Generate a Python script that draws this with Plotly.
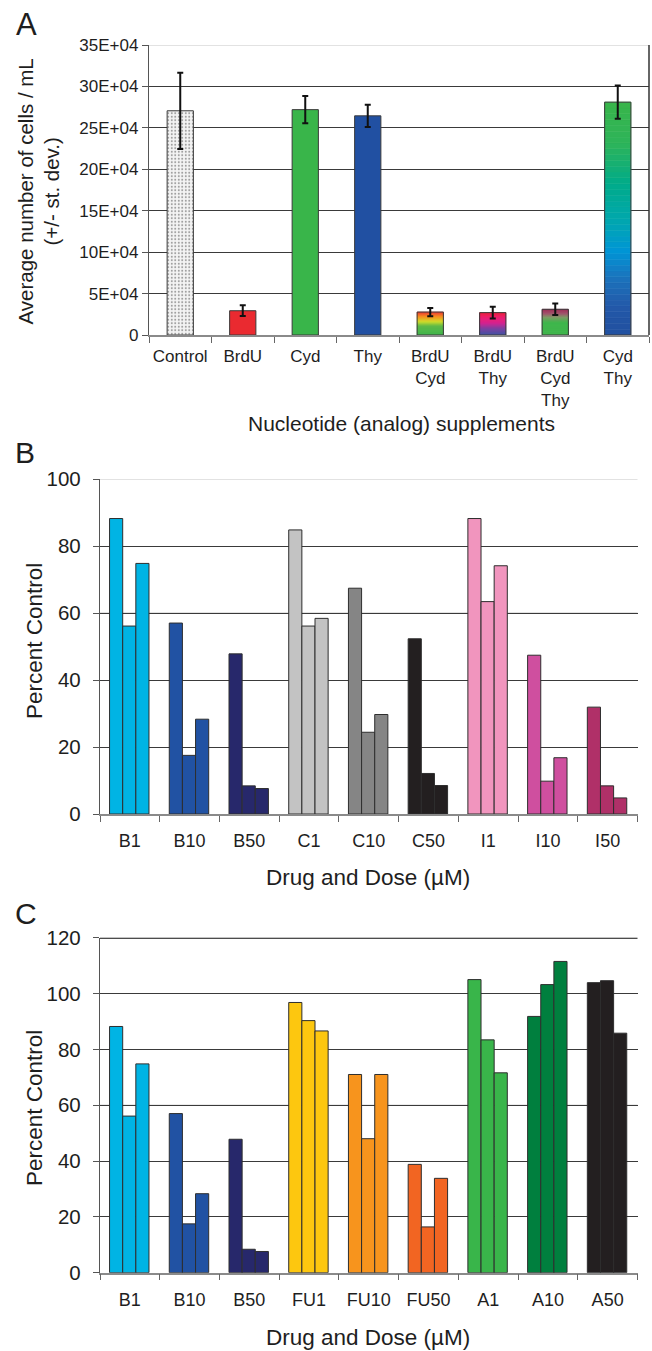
import plotly.graph_objects as go

W, H = 652, 1351
FONT = "Liberation Sans, Arial, Helvetica, sans-serif"
TXT = "#1e1e1e"

# ---------------- Panel A data ----------------
a_categories = ["Control", "BrdU", "Cyd", "Thy", "BrdU<br>Cyd", "BrdU<br>Thy",
                "BrdU<br>Cyd<br>Thy", "Cyd<br>Thy"]
a_means = [270600, 29300, 272000, 264500, 27700, 27000, 31000, 281000]
a_sd = [46000, 6500, 16500, 13500, 5000, 7000, 7000, 20000]
a_tickvals = [0, 50000, 100000, 150000, 200000, 250000, 300000, 350000]
a_ticktext = ["0", "5E+04", "10E+04", "15E+04", "20E+04", "25E+04", "30E+04", "35E+04"]

# ---------------- Panel B data ----------------
b_categories = ["B1", "B10", "B50", "C1", "C10", "C50", "I1", "I10", "I50"]
b_rep1 = [88.2, 57.0, 47.8, 84.8, 67.4, 52.3, 88.2, 47.4, 31.9]
b_rep2 = [56.1, 17.5, 8.4, 56.1, 24.4, 12.1, 63.4, 9.8, 8.4]
b_rep3 = [74.8, 28.3, 7.6, 58.4, 29.7, 8.5, 74.1, 16.8, 4.8]
b_tickvals = [0, 20, 40, 60, 80, 100]

# ---------------- Panel C data ----------------
c_categories = ["B1", "B10", "B50", "FU1", "FU10", "FU50", "A1", "A10", "A50"]
c_rep1 = [88.2, 57.0, 47.8, 96.8, 71.0, 38.8, 105.0, 91.8, 103.9]
c_rep2 = [56.1, 17.5, 8.4, 90.3, 48.0, 16.4, 83.4, 103.2, 104.6]
c_rep3 = [74.8, 28.3, 7.6, 86.6, 71.0, 33.8, 71.6, 111.5, 85.8]
c_tickvals = [0, 20, 40, 60, 80, 100, 120]

# ---------------- styles ----------------
a_solid = ["#f4f4f4", "#ea2a30", "#39b54a", "#2150a2", None, None, None, None]
a_grad = {
    4: [(0, "#3cb54a"), (0.4, "#5cb947"), (0.6, "#cfdc28"), (0.8, "#f7941d"), (1, "#ee3e32")],
    5: [(0, "#3b52a4"), (0.3, "#7a3fa0"), (0.55, "#d6208f"), (0.8, "#ec1c6e"), (1, "#ed1c3c")],
    6: [(0, "#3cb54a"), (0.5, "#3cb54a"), (0.7, "#7d9a63"), (0.85, "#a0506a"), (1, "#9b2f56")],
    7: [(0, "#2150a0"), (0.12, "#2358a8"), (0.25, "#1a74bd"), (0.36, "#0095d6"),
        (0.5, "#00a8ac"), (0.65, "#00ab8a"), (0.82, "#2db45a"), (1, "#39b54a")],
}
b_colors = ["#00b4e4", "#2152a3", "#27286b", "#c3c3c3", "#858585", "#231f20",
            "#f195be", "#cf4f9f", "#b03068"]
c_colors = ["#00b4e4", "#2152a3", "#27286b", "#fdc70f", "#f7941d", "#f26522",
            "#39b54a", "#007f3e", "#231f20"]


def hex2rgb(h):
    h = h.lstrip("#")
    return tuple(int(h[i:i + 2], 16) for i in (0, 2, 4))


def interp(stops, t):
    for (t0, c0), (t1, c1) in zip(stops[:-1], stops[1:]):
        if t0 <= t <= t1:
            f = 0 if t1 == t0 else (t - t0) / (t1 - t0)
            a, b = hex2rgb(c0), hex2rgb(c1)
            return "rgb(%d,%d,%d)" % tuple(round(a[k] + (b[k] - a[k]) * f) for k in range(3))
    return stops[-1][1]


fig = go.Figure()

# gradient segments (built from the bar values)
N = 40
seg_x, seg_base, seg_h, seg_c = [], [], [], []
for idx, stops in a_grad.items():
    v = a_means[idx]
    for i in range(N):
        seg_x.append(a_categories[idx])
        seg_base.append(v * i / N)
        seg_h.append(v / N)
        seg_c.append(interp(stops, (i + 0.5) / N))
fig.add_trace(go.Bar(x=seg_x, y=seg_h, base=seg_base, width=0.42,
                     marker=dict(color=seg_c, line=dict(color=seg_c, width=0.6)),
                     xaxis="x", yaxis="y", hoverinfo="skip", showlegend=False))

# main bars with outline and error bars
fig.add_trace(go.Bar(
    x=a_categories, y=a_means, width=0.42,
    marker=dict(color=[c if c else "rgba(0,0,0,0)" for c in a_solid],
                line=dict(color="#3a3a3a", width=1),
                pattern=dict(shape=["."] + [""] * 7, fgcolor="#b0b0b0",
                             bgcolor="#f6f6f6", size=3.5, solidity=0.25)),
    error_y=dict(type="data", array=a_sd, visible=True, color="#111111",
                 thickness=2, width=3),
    xaxis="x", yaxis="y", showlegend=False))

# panels B and C
offsets = [-0.34, -0.12, 0.10]
for reps, cats, cols, xa, ya in [((b_rep1, b_rep2, b_rep3), b_categories, b_colors, "x2", "y2"),
                                  ((c_rep1, c_rep2, c_rep3), c_categories, c_colors, "x3", "y3")]:
    for k, vals in enumerate(reps):
        fig.add_trace(go.Bar(x=cats, y=vals, width=0.22, offset=offsets[k],
                             marker=dict(color=cols, line=dict(color="#2e2e2e", width=1)),
                             xaxis=xa, yaxis=ya, showlegend=False))


def ydom(top, bottom):
    return [1 - bottom / H, 1 - top / H]


common_x = dict(type="category", tickson="boundaries", ticks="outside", ticklen=6,
                tickcolor="#666666", tickwidth=1.3, showline=True, linecolor="#8a8a8a",
                linewidth=1.5, showgrid=False, tickangle=0, automargin=False)
common_y = dict(ticks="outside", ticklen=6, tickcolor="#555555", tickwidth=1.3,
                showline=True, linecolor="#555555", linewidth=1.3, gridcolor="#3a3a3a",
                gridwidth=1.3, zeroline=False, tickmode="array", automargin=False)

fig.update_layout(
    width=W, height=H, margin=dict(l=0, r=0, t=0, b=0, autoexpand=False),
    paper_bgcolor="white", plot_bgcolor="white",
    barmode="overlay", showlegend=False,
    font=dict(family=FONT, color=TXT),
    xaxis=dict(common_x, domain=[149 / W, 649 / W], anchor="y", range=[-0.5, 7.5],
               categoryorder="array", categoryarray=a_categories, ticklabelstandoff=5,
               tickfont=dict(family=FONT, color=TXT, size=17)),
    yaxis=dict(common_y, domain=ydom(45, 335), anchor="x", range=[0, 350000],
               tickvals=a_tickvals, ticktext=a_ticktext,
               tickfont=dict(family=FONT, color=TXT, size=17)),
    xaxis2=dict(common_x, domain=[100 / W, 637.5 / W], anchor="y2", range=[-0.5, 8.5],
                categoryorder="array", categoryarray=b_categories, ticklabelstandoff=10,
                tickfont=dict(family=FONT, color=TXT, size=18)),
    yaxis2=dict(common_y, domain=ydom(479, 814), anchor="x2", range=[0, 100],
                tickvals=b_tickvals, ticklabelstandoff=8,
                tickfont=dict(family=FONT, color=TXT, size=20.5)),
    xaxis3=dict(common_x, domain=[100 / W, 637.5 / W], anchor="y3", range=[-0.5, 8.5],
                categoryorder="array", categoryarray=c_categories, ticklabelstandoff=10,
                tickfont=dict(family=FONT, color=TXT, size=18)),
    yaxis3=dict(common_y, domain=ydom(937.7, 1272.7), anchor="x3", range=[0, 120],
                tickvals=c_tickvals, ticklabelstandoff=8,
                tickfont=dict(family=FONT, color=TXT, size=20.5)),
)

light = "#d8d8d8"
fig.add_shape(type="line", xref="x domain", yref="y", x0=0, x1=1, y0=a_tickvals[-1],
              y1=a_tickvals[-1], line=dict(color=light, width=1.5), layer="below")
fig.add_shape(type="line", xref="x domain", yref="y domain", x0=1, x1=1, y0=0, y1=1,
              line=dict(color="#333333", width=1.5))
fig.add_shape(type="line", xref="x2 domain", yref="y2", x0=0, x1=1, y0=b_tickvals[-1],
              y1=b_tickvals[-1], line=dict(color=light, width=1.5), layer="below")
fig.add_shape(type="line", xref="x2 domain", yref="y2", x0=0, x1=1, y0=b_tickvals[3],
              y1=b_tickvals[3], line=dict(color=light, width=1.5), layer="below")
fig.add_shape(type="line", xref="x3 domain", yref="y3", x0=0, x1=1, y0=c_tickvals[3],
              y1=c_tickvals[3], line=dict(color=light, width=1.5), layer="below")
fig.add_shape(type="line", xref="x3 domain", yref="y3", x0=0, x1=1, y0=c_tickvals[-1],
              y1=c_tickvals[-1], line=dict(color="#111111", width=2.2), layer="below")


def ann(text, x, y, size, angle=0):
    fig.add_annotation(text=text, xref="paper", yref="paper", x=x / W, y=1 - y / H,
                       xanchor="center", yanchor="middle", showarrow=False,
                       textangle=angle, font=dict(family=FONT, size=size, color=TXT))


ann("A", 26.5, 24.5, 31)
ann("B", 24.5, 452.5, 30)
ann("C", 25.5, 913, 30)
ann("Average number of cells / mL<br>(+/- st. dev.)", 38.5, 192, 20.5, -90)
ann("Nucleotide (analog) supplements", 401, 423, 21)
ann("Percent Control", 34, 641, 22.5, -90)
ann("Drug and Dose (µM)", 368, 877, 22.5)
ann("Percent Control", 34, 1108, 22.5, -90)
ann("Drug and Dose (µM)", 368, 1337, 22.5)

fig.write_html("out.html", config={"displayModeBar": False},
               post_script="document.body.style.margin='0';document.body.style.padding='0';")
